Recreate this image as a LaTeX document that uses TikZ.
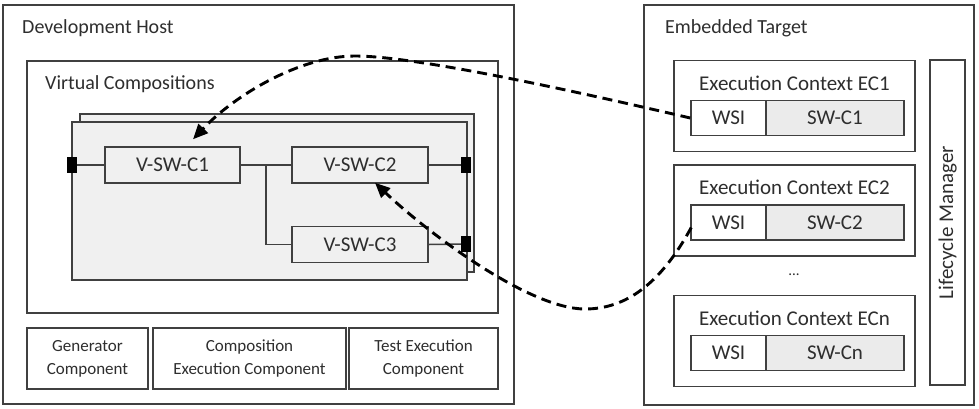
\documentclass[tikz,border=0pt]{standalone}
\usepackage{fontspec}
\setmainfont{Carlito}
\usetikzlibrary{calc,arrows.meta}
\definecolor{ln}{HTML}{404040}
\definecolor{tx}{HTML}{2E2E2E}
\definecolor{fillc}{HTML}{F0F0F0}
\definecolor{fillsw}{HTML}{EBEBEB}
\tikzset{
  box/.style={draw=ln, line width=1.5pt, inner sep=0pt, text=tx, font=\fontsize{21}{24}\selectfont},
  bigbox/.style={box, fill=white},
  compbox/.style={box, fill=fillc},
  vbox/.style={box, fill=fillc, minimum width=136pt, minimum height=36pt},
  port/.style={fill=black, draw=none, minimum width=10pt, minimum height=16pt, inner sep=0pt},
  title/.style={text=tx, inner sep=0pt, anchor=west, font=\fontsize{20}{24}\selectfont},
  btm/.style={box, align=center, font=\fontsize{17}{23}\selectfont, minimum height=61pt},
  wire/.style={draw=ln, line width=1.5pt},
  dep/.style={draw=black, line width=2.9pt, dash pattern=on 10pt off 6pt, -{Triangle[length=15pt,width=13pt]}}
}
\begin{document}
\begin{tikzpicture}[x=1pt,y=-1pt]
\useasboundingbox (0,0) rectangle (979,408);
% Development host
\node[bigbox, minimum width=511pt, minimum height=399pt] (dev) at (258.5,204.5) {};
\node[title] (devt) at (22,28) {Development Host};
\node[bigbox, minimum width=471pt, minimum height=252pt] (vc) at (262.5,187) {};
\node[title] (vct) at (45,84) {Virtual Compositions};
\node[compbox, minimum width=394pt, minimum height=158pt] (back) at (277,193) {};
\node[compbox, minimum width=395pt, minimum height=158pt] (front) at (269.5,201) {};
\node[vbox, minimum width=135pt] (vsw1) at (172.5,165) {V-SW-C1};
\node[vbox] (vsw2) at (360,165) {V-SW-C2};
\node[vbox] (vsw3) at (360,244.5) {V-SW-C3};
\node[port] (pL) at (72,165) {};
\node[port] (pR) at (466,165) {};
\node[port] (pR3) at (466,244) {};
\coordinate (j) at ($(vsw1.east)!0.5!(vsw2.west)$);
\draw[wire] (pL.center) -- (vsw1.west);
\draw[wire] (vsw1.east) -- (vsw2.west);
\draw[wire] (j) |- (vsw3.west);
\draw[wire] (vsw2.east) -- (pR.center);
\draw[wire] (vsw3.east) -- (pR3.center);
\node[port] at (pL) {};
\node[port] at (pR) {};
\node[port] at (pR3) {};
\node[btm, minimum width=121pt] (gen) at (87.5,358.5) {Generator\\Component};
\node[btm, minimum width=193pt] (comp) at (249.5,358.5) {Composition\\Execution Component};
\node[btm, minimum width=149pt] (test) at (423.5,358.5) {Test Execution\\Component};
% Embedded target
\node[bigbox, minimum width=330pt, minimum height=400pt] (tgt) at (809,205) {};
\node[title] (tgtt) at (665,28) {Embedded Target};
\foreach \n/\cy/\lab/\sw in {1/106/EC1/SW-C1, 2/210.5/EC2/SW-C2, n/341/ECn/SW-Cn}{
  \node[bigbox, minimum width=241pt, minimum height=91pt] (ec\n) at (794.5,\cy) {};
  \node[text=tx, inner sep=0pt, font=\fontsize{21}{24}\selectfont] (ect\n) at (794.5,\cy-23) {Execution Context \lab};
  \node[box, fill=white, minimum width=75pt, minimum height=35pt] (wsi\n) at (728.5,\cy+12) {WSI};
  \node[box, fill=fillsw, minimum width=138pt, minimum height=35pt] (swc\n) at (835,\cy+12) {\sw};
}
\node[text=tx, inner sep=0pt, font=\fontsize{15}{18}\selectfont] (dots) at (794,275) {...};
\node[box, fill=white, rotate=90, minimum width=325pt, minimum height=35pt] (lcm) at (947.5,222.5) {Lifecycle Manager};
% dashed deployment links
\draw[dep] (wsi1.west) .. controls (600,97) and (420,56) .. (355,56)
  .. controls (300,56) and (235,95) .. ($(vsw1.north)+(20.5,-7)$);
\draw[dep] ($(wsi2.west)+(1,5)$) .. controls (660,285) and (625,309) .. (585,309)
  .. controls (530,309) and (430,235) .. ($(vsw2.south)+(15,-1)$);
\end{tikzpicture}
\end{document}
